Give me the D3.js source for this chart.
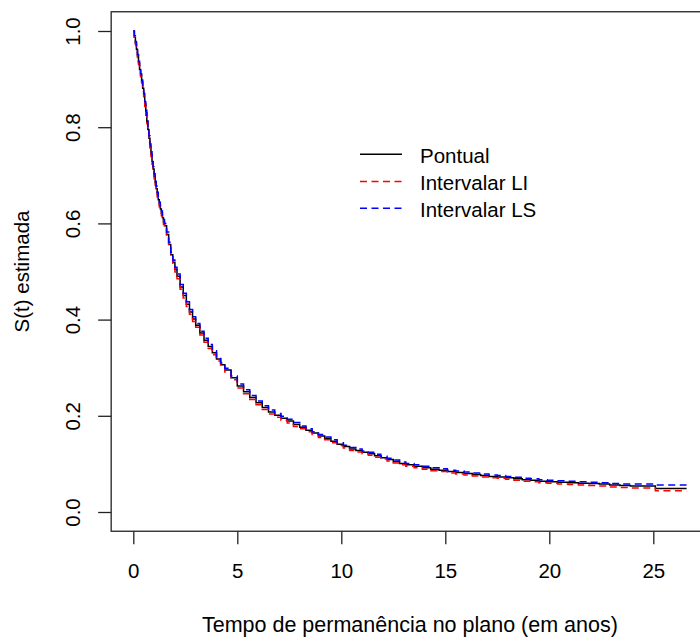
<!DOCTYPE html>
<html>
<head>
<meta charset="utf-8">
<script src="https://cdn.jsdelivr.net/npm/d3@7"></script>
<style>
  body { margin: 0; background: #fff; }
  svg { display: block; font-family: "Liberation Sans", Arial, sans-serif; }
</style>
</head>
<body>
<div id="chart"></div>
<script>
// Estimated step values
let tempo = [0, 0.05, 0.1, 0.15, 0.2, 0.25, 0.3, 0.35, 0.4, 0.45,
  0.5, 0.55, 0.6, 0.65, 0.7, 0.75, 0.8, 0.85, 0.9, 0.95,
  1.0, 1.05, 1.1, 1.15, 1.2, 1.25, 1.3, 1.35, 1.4, 1.45,
  1.5, 1.6, 1.7, 1.8, 1.9, 2.0, 2.1,
  2.25, 2.4, 2.55, 2.7, 2.85, 3.0, 3.2, 3.4, 3.6, 3.8,
  4.0, 4.2, 4.4, 4.7, 5.0, 5.3, 5.6, 5.9, 6.2, 6.5,
  6.8, 7.1, 7.4, 7.7, 8.0, 8.3, 8.6, 8.9, 9.2, 9.5,
  9.8, 10.1, 10.4, 10.7, 11.0, 11.3, 11.6, 11.9, 12.2, 12.5,
  12.8, 13.1, 13.5, 13.9, 14.3, 14.7, 15.1, 15.5, 15.9, 16.3,
  16.7, 17.1, 17.5, 17.9, 18.3, 18.7, 19.1, 19.5, 19.9, 20.4,
  20.9, 21.4, 21.9, 22.4, 22.9, 23.4, 23.9, 25.1, 26.6]

let pontual = [1.000, 0.987, 0.975, 0.962, 0.948, 0.934, 0.920, 0.908, 0.895, 0.881,
  0.865, 0.848, 0.830, 0.812, 0.795, 0.777, 0.760, 0.744, 0.728, 0.713,
  0.698, 0.685, 0.672, 0.660, 0.649, 0.639, 0.630, 0.621, 0.612, 0.603,
  0.595, 0.577, 0.556, 0.535, 0.519, 0.504, 0.490,
  0.468, 0.450, 0.432, 0.416, 0.401, 0.388, 0.372, 0.357, 0.344, 0.331,
  0.318, 0.306, 0.295, 0.279, 0.262, 0.250, 0.238, 0.227, 0.217, 0.208,
  0.201, 0.195, 0.189, 0.182, 0.176, 0.170, 0.164, 0.158, 0.153, 0.147,
  0.141, 0.136, 0.131, 0.128, 0.124, 0.121, 0.117, 0.113, 0.109, 0.105,
  0.101, 0.098, 0.095, 0.092, 0.089, 0.087, 0.084, 0.082, 0.080, 0.078,
  0.076, 0.074, 0.073, 0.071, 0.069, 0.067, 0.066, 0.064, 0.063, 0.062,
  0.061, 0.060, 0.059, 0.058, 0.056, 0.055, 0.054, 0.049, 0.049]

let li = [0.998, 0.984, 0.972, 0.959, 0.945, 0.931, 0.917, 0.905, 0.892, 0.878,
  0.860, 0.843, 0.825, 0.807, 0.790, 0.772, 0.755, 0.739, 0.723, 0.708,
  0.693, 0.680, 0.667, 0.655, 0.644, 0.634, 0.625, 0.616, 0.607, 0.598,
  0.590, 0.572, 0.551, 0.530, 0.514, 0.499, 0.485,
  0.463, 0.445, 0.427, 0.411, 0.396, 0.384, 0.368, 0.353, 0.340, 0.327,
  0.314, 0.302, 0.291, 0.275, 0.258, 0.246, 0.234, 0.223, 0.213, 0.204,
  0.197, 0.191, 0.185, 0.178, 0.173, 0.167, 0.161, 0.155, 0.150, 0.144,
  0.138, 0.133, 0.128, 0.125, 0.121, 0.118, 0.114, 0.110, 0.106, 0.102,
  0.098, 0.095, 0.092, 0.089, 0.086, 0.084, 0.081, 0.079, 0.077, 0.075,
  0.073, 0.071, 0.070, 0.068, 0.066, 0.064, 0.063, 0.061, 0.060, 0.058,
  0.057, 0.056, 0.055, 0.054, 0.052, 0.051, 0.050, 0.044, 0.044]

let ls = [1.000, 0.990, 0.978, 0.965, 0.951, 0.937, 0.923, 0.911, 0.898, 0.884,
  0.870, 0.853, 0.835, 0.817, 0.800, 0.782, 0.765, 0.749, 0.733, 0.718,
  0.703, 0.690, 0.677, 0.665, 0.654, 0.644, 0.635, 0.626, 0.617, 0.608,
  0.600, 0.582, 0.561, 0.540, 0.524, 0.509, 0.495,
  0.473, 0.455, 0.437, 0.421, 0.406, 0.392, 0.376, 0.361, 0.348, 0.335,
  0.322, 0.310, 0.299, 0.283, 0.266, 0.254, 0.242, 0.231, 0.221, 0.212,
  0.205, 0.199, 0.193, 0.186, 0.179, 0.173, 0.167, 0.161, 0.156, 0.150,
  0.144, 0.139, 0.134, 0.131, 0.127, 0.124, 0.120, 0.116, 0.112, 0.108,
  0.104, 0.101, 0.098, 0.095, 0.092, 0.090, 0.087, 0.085, 0.083, 0.081,
  0.079, 0.077, 0.076, 0.074, 0.072, 0.070, 0.069, 0.067, 0.066, 0.065,
  0.064, 0.063, 0.062, 0.061, 0.059, 0.058, 0.058, 0.056, 0.056]

let xTicks = [0, 5, 10, 15, 20, 25]
let yTicks = [0.0, 0.2, 0.4, 0.6, 0.8, 1.0]
let legendLabels = ["Pontual", "Intervalar LI", "Intervalar LS"]
let legendColors = ["#000000", "#ff0000", "#0000ff"]

let w = 700, h = 637
let fontSize = "20.5px"

let svg = d3.select("#chart").append("svg").attr("width", w).attr("height", h)
svg.append("rect").attr("width", w).attr("height", h).attr("fill", "#fff")

let x = d3.scaleLinear().domain([0, 25]).range([133.3, 653.3])
let y = d3.scaleLinear().domain([0, 1]).range([512, 31])

// plot box (R adds 4% on each side)
let bx0 = x(-1.064), bx1 = x(27.664), by0 = y(1.04), by1 = y(-0.04)
svg.append("rect")
  .attr("x", bx0).attr("y", by0)
  .attr("width", bx1 - bx0).attr("height", by1 - by0)
  .attr("fill", "none").attr("stroke", "#222").attr("stroke-width", 1.3)

// x axis
let gx = svg.append("g")
  .attr("transform", "translate(0," + by1 + ")")
  .call(d3.axisBottom(x).tickValues(xTicks).tickFormat(d3.format("d")).tickSize(13).tickPadding(19))
gx.select(".domain").remove()
gx.selectAll("line").attr("stroke", "#222").attr("stroke-width", 1.3)
gx.selectAll("text").attr("font-size", fontSize).attr("font-family", "Liberation Sans").attr("fill", "#000")

// y axis, labels rotated like R's default
let gy = svg.append("g")
  .attr("transform", "translate(" + bx0 + ",0)")
  .call(d3.axisLeft(y).tickValues(yTicks).tickFormat(d3.format(".1f")).tickSize(13))
gy.select(".domain").remove()
gy.selectAll("line").attr("stroke", "#222").attr("stroke-width", 1.3)
gy.selectAll("text")
  .attr("x", null).attr("dy", null)
  .attr("text-anchor", "middle")
  .attr("transform", "translate(-31.5,0) rotate(-90)")
  .attr("font-size", fontSize).attr("font-family", "Liberation Sans").attr("fill", "#000")

// axis titles
svg.append("text")
  .attr("x", (bx0 + bx1) / 2).attr("y", 632)
  .attr("text-anchor", "middle").attr("font-size", "21.5px")
  .text("Tempo de permanência no plano (em anos)")

svg.append("text")
  .attr("transform", "translate(29," + ((by0 + by1) / 2) + ") rotate(-90)")
  .attr("text-anchor", "middle").attr("font-size", fontSize)
  .text("S(t) estimada")

// step curves
let series = [pontual, li, ls]
let dashes = [null, "7,4.5", "7,4.5"]
let step = d3.line().curve(d3.curveStepAfter)

series.forEach((vals, k) => {
  let pts = tempo.map((t, i) => [x(t), y(vals[i])])
  svg.append("path")
    .attr("d", step(pts))
    .attr("fill", "none")
    .attr("stroke", legendColors[k])
    .attr("stroke-width", 1.5)
    .attr("stroke-dasharray", dashes[k])
})

// legend
let legendY = [154.3, 181.5, 208.3]
legendLabels.forEach((lab, k) => {
  svg.append("line")
    .attr("x1", 360).attr("x2", 402)
    .attr("y1", legendY[k]).attr("y2", legendY[k])
    .attr("stroke", legendColors[k]).attr("stroke-width", 1.5)
    .attr("stroke-dasharray", dashes[k])
  svg.append("text")
    .attr("x", 420).attr("y", legendY[k] + 8.5)
    .attr("font-size", fontSize)
    .text(lab)
})
</script>
</body>
</html>
